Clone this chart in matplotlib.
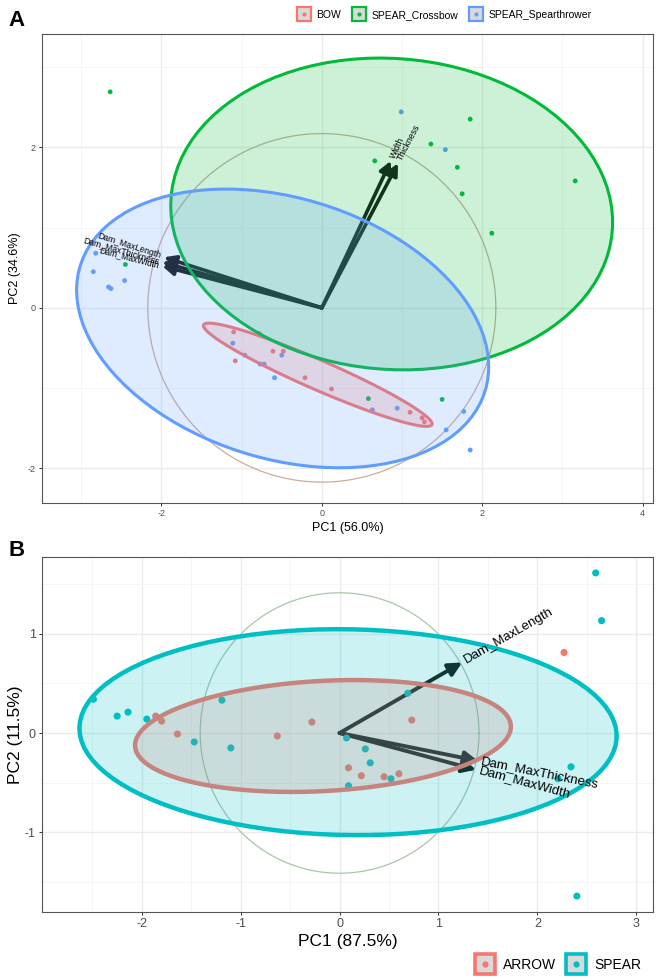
import numpy as np
import matplotlib
matplotlib.use('Agg')
import matplotlib.pyplot as plt
from matplotlib.patches import Polygon
from matplotlib.lines import Line2D

plt.rcParams['font.family'] = ['Liberation Sans', 'DejaVu Sans']
plt.rcParams['axes.unicode_minus'] = False

# ---- Panel A data (PC scores) ----
bow_pc1 = [-1.10, -0.78, -1.08, -0.61, -0.48, -0.21, 0.12, 1.10, 1.25, 1.28]
bow_pc2 = [-0.30, -0.32, -0.66, -0.54, -0.54, -0.87, -1.01, -1.30, -1.37, -1.42]

crossbow_pc1 = [-2.64, -2.45, 0.66, 1.85, 1.36, 1.69, 1.75, 2.12, 3.16, 0.58, 1.50]
crossbow_pc2 = [2.69, 0.54, 1.83, 2.35, 2.04, 1.75, 1.42, 0.93, 1.58, -1.13, -1.14]

spthr_pc1 = [0.99, 1.54, -2.82, -2.85, -2.66, -2.63, -2.46, -1.11, -0.96, -0.77,
             -0.72, -0.59, -0.50, 0.63, 0.94, 1.77, 1.55, 1.85]
spthr_pc2 = [2.44, 1.97, 0.68, 0.45, 0.26, 0.24, 0.34, -0.44, -0.59, -0.70,
             -0.70, -0.87, -0.59, -1.27, -1.25, -1.29, -1.52, -1.77]

a_groups = ['BOW', 'SPEAR_Crossbow', 'SPEAR_Spearthrower']
a_vars = ['Dam_MaxLength', 'Dam_MaxThickness', 'Dam_MaxWidth', 'Width', 'Thickness']
a_load_pc1 = [-1.97, -1.99, -1.99, 0.86, 0.95]
a_load_pc2 = [0.63, 0.57, 0.52, 1.83, 1.80]
a_circle_r = 2.17

# ---- Panel B data ----
arrow_pc1 = [2.27, -1.86, -1.80, -1.64, -0.63, -0.28, 0.73, 0.09, 0.22, 0.45, 0.60]
arrow_pc2 = [0.81, 0.17, 0.12, -0.01, -0.03, 0.11, 0.13, -0.35, -0.43, -0.44, -0.41]

spear_pc1 = [2.59, 2.65, -2.49, -2.25, -2.14, -1.95, -1.19, -1.47, -1.10, 0.69,
             0.07, 0.26, 0.31, 0.52, 0.09, 2.34, 2.21, 2.40]
spear_pc2 = [1.61, 1.13, 0.34, 0.17, 0.21, 0.14, 0.33, -0.09, -0.15, 0.40,
             -0.05, -0.16, -0.30, -0.46, -0.53, -0.34, -0.46, -1.64]

b_groups = ['ARROW', 'SPEAR']
b_vars = ['Dam_MaxLength', 'Dam_MaxThickness', 'Dam_MaxWidth']
b_load_pc1 = [1.24, 1.40, 1.38]
b_load_pc2 = [0.71, -0.28, -0.37]
b_circle_r = 1.41


def data_ellipse(x, y, prob=0.68, n=100):
    # same normal-theory ellipse that ggbiplot draws
    x = np.asarray(x)
    y = np.asarray(y)
    sigma = np.cov(x, y)
    mu = np.array([x.mean(), y.mean()])
    ed = np.sqrt(-2 * np.log(1 - prob))
    t = np.linspace(-np.pi, np.pi, n)
    circ = np.column_stack([np.cos(t), np.sin(t)])
    R = np.linalg.cholesky(sigma).T
    return circ @ R * ed + mu


def biplot(ax, groups, xs, ys, colors, vars_, lx, ly, circle_r, circle_col,
           pt_size, ell_lw, arrow_lw, label_size, head):
    # correlation circle
    t = np.linspace(0, 2 * np.pi, 200)
    ax.plot(circle_r * np.cos(t), circle_r * np.sin(t), color=circle_col, lw=0.9, zorder=1)
    # loadings arrows
    for v, x, y in zip(vars_, lx, ly):
        ax.annotate('', xy=(x, y), xytext=(0, 0),
                    arrowprops=dict(arrowstyle='-|>,head_length=%s,head_width=%s' % head,
                                    color='#141414', lw=arrow_lw, shrinkA=0, shrinkB=0),
                    zorder=2)
    # points
    for g, x, y, c in zip(groups, xs, ys, colors):
        ax.scatter(x, y, s=pt_size, color=c, edgecolors='none', zorder=3)
    # ellipses, one group at a time (fill + outline)
    for i, (x, y, c) in enumerate(zip(xs, ys, colors)):
        e = data_ellipse(x, y)
        ax.add_patch(Polygon(e, closed=True, facecolor=c, alpha=0.2, edgecolor='none', zorder=4 + 2 * i))
        ax.add_patch(Polygon(e, closed=True, fill=False, edgecolor=c, lw=ell_lw, zorder=5 + 2 * i))
    # variable names
    for v, x, y in zip(vars_, lx, ly):
        ang = np.degrees(np.arctan(y / x))
        sgn = np.sign(x)
        gap = 2.5
        ax.annotate(v, xy=(x, y), xytext=(sgn * gap * np.cos(np.radians(ang)), sgn * gap * np.sin(np.radians(ang))),
                    textcoords='offset points', rotation=ang, rotation_mode='anchor',
                    ha='left' if x > 0 else 'right', va='center', fontsize=label_size,
                    color='black', zorder=20)


def style(ax, xlim, ylim, xmaj, xmin, ymaj, ymin, tick_size, title_size, xlabel, ylabel, ylab_x):
    ax.set_xlim(xlim)
    ax.set_ylim(ylim)
    ax.set_xticks(xmaj)
    ax.set_xticks(xmin, minor=True)
    ax.set_yticks(ymaj)
    ax.set_yticks(ymin, minor=True)
    ax.grid(which='major', color='#EBEBEB', lw=1.0, zorder=0)
    ax.grid(which='minor', color='#F4F4F4', lw=0.6, zorder=0)
    ax.set_axisbelow(True)
    ax.tick_params(which='major', length=2.5, width=0.7, color='#333333',
                   labelsize=tick_size, labelcolor='#4D4D4D', pad=2)
    ax.tick_params(which='minor', length=0)
    for s in ax.spines.values():
        s.set_color('#555555')
        s.set_linewidth(0.8)
    ax.set_xlabel(xlabel, fontsize=title_size, labelpad=3)
    ax.set_ylabel(ylabel, fontsize=title_size)
    ax.yaxis.set_label_coords(ylab_x, 0.5)


fig = plt.figure(figsize=(6.57, 9.8), dpi=100)

# ---- Panel A ----
axA = fig.add_axes([42 / 657, 1 - 503 / 980, 611 / 657, 469 / 980])
a_cols = ['#F8766D', '#00BA38', '#619CFF']
biplot(axA, a_groups, [bow_pc1, crossbow_pc1, spthr_pc1], [bow_pc2, crossbow_pc2, spthr_pc2],
       a_cols, a_vars, a_load_pc1, a_load_pc2, a_circle_r, '#C9AE9E',
       pt_size=12, ell_lw=2.2, arrow_lw=2.6, label_size=6.2, head=(0.7, 0.35))
style(axA, (-3.49, 4.13), (-2.43, 3.41), [-2, 0, 2, 4], [-3, -1, 1, 3], [-2, 0, 2], [-1, 1, 3],
      6.5, 9, 'PC1 (56.0%)', 'PC2 (34.6%)', -21 / 611)

# ---- Panel B ----
axB = fig.add_axes([42 / 657, 1 - 912 / 980, 611 / 657, 355 / 980])
b_cols = ['#F8766D', '#00BFC4']
biplot(axB, b_groups, [arrow_pc1, spear_pc1], [arrow_pc2, spear_pc2],
       b_cols, b_vars, b_load_pc1, b_load_pc2, b_circle_r, '#A9C6A9',
       pt_size=26, ell_lw=3.2, arrow_lw=2.8, label_size=9.5, head=(0.8, 0.4))
style(axB, (-3.01, 3.17), (-1.80, 1.77), [-2, -1, 0, 1, 2, 3], [-2.5, -1.5, -0.5, 0.5, 1.5, 2.5],
      [-1, 0, 1], [-1.5, -0.5, 0.5, 1.5], 9, 12.5, 'PC1 (87.5%)', 'PC2 (11.5%)', -19 / 611)

# panel letters
fig.text(8 / 657, 1 - 20 / 980, 'A', fontsize=16, fontweight='bold', va='center', ha='left')
fig.text(8 / 657, 1 - 551 / 980, 'B', fontsize=16, fontweight='bold', va='center', ha='left')


def key_handles(cols, ms, mew, dot):
    return [(Line2D([], [], ls='none', marker='s', ms=ms, mfc='#D9D9D9', mec=c, mew=mew),
             Line2D([], [], ls='none', marker='o', ms=dot, mfc=c, mec='none')) for c in cols]


fig.legend(key_handles(a_cols, 10.5, 1.6, 3), a_groups, loc='center',
           bbox_to_anchor=(445 / 657, 1 - 15 / 980), ncol=3, frameon=False, fontsize=7.5,
           handlelength=1.0, handletextpad=0.7, columnspacing=1.2)
fig.legend(key_handles(b_cols, 15, 2.6, 4.5), b_groups, loc='center',
           bbox_to_anchor=(559 / 657, 1 - 965 / 980), ncol=2, frameon=False, fontsize=10,
           handlelength=1.2, handletextpad=0.7, columnspacing=0.8)

fig.savefig('out.png', dpi=100)
